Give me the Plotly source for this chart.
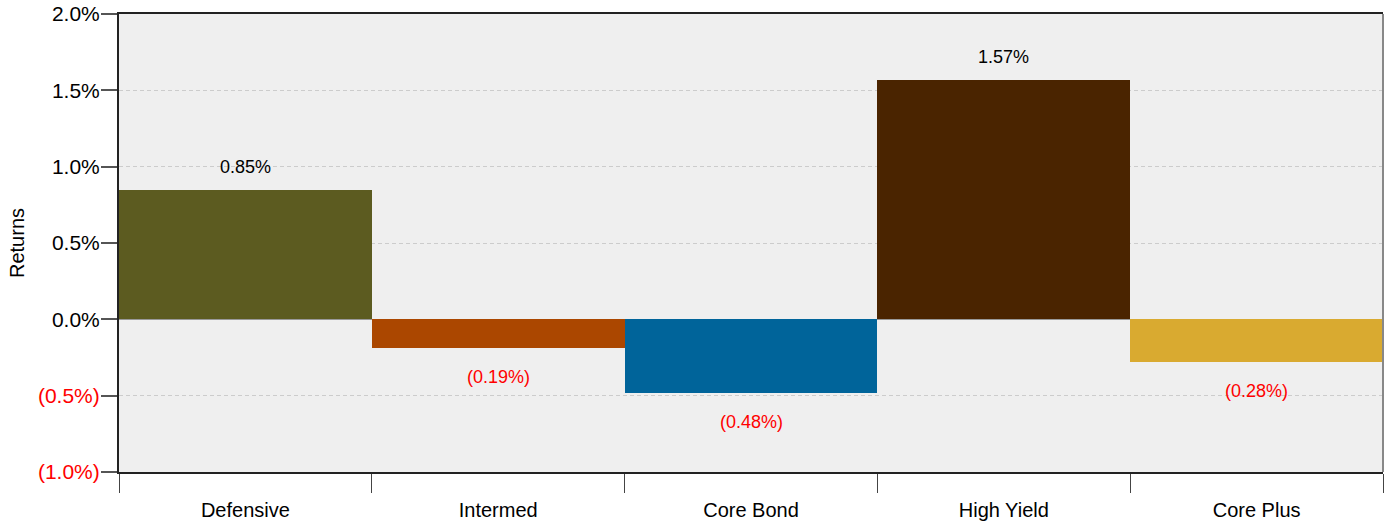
import plotly.graph_objects as go

# Strategy returns (%)
categories = ["Defensive", "Intermed", "Core Bond", "High Yield", "Core Plus"]
returns = [0.85, -0.19, -0.48, 1.57, -0.28]
bar_colors = ["#5c5b20", "#ab4700", "#00649a", "#4a2400", "#d9aa30"]

y_tick_vals = [-1.0, -0.5, 0.0, 0.5, 1.0, 1.5, 2.0]


def fmt_pct(v, digits):
    s = f"{abs(v):.{digits}f}%"
    return f"({s})" if v < 0 else s


y_tick_text = [
    f'<span style="color:#ff0000">{fmt_pct(v, 1)}</span>' if v < 0 else fmt_pct(v, 1)
    for v in y_tick_vals
]

fig = go.Figure(
    go.Bar(
        x=categories,
        y=returns,
        marker=dict(color=bar_colors, line=dict(width=0)),
        width=1.0,
        hoverinfo="skip",
    )
)

# Value labels above positive bars, below negative bars
for cat, v in zip(categories, returns):
    fig.add_annotation(
        x=cat,
        y=v,
        text=fmt_pct(v, 2),
        showarrow=False,
        yanchor="middle",
        yshift=23 if v >= 0 else -29,
        font=dict(size=18, color="#000000" if v >= 0 else "#ff0000"),
    )

# Right-hand frame edge
fig.add_shape(
    type="line", xref="paper", yref="paper",
    x0=1, x1=1, y0=0, y1=1,
    line=dict(color="#888888", width=2),
)

fig.update_layout(
    width=1388,
    height=522,
    margin=dict(l=119, r=5, t=14, b=50),
    paper_bgcolor="white",
    plot_bgcolor="#efefef",
    bargap=0,
    showlegend=False,
    font=dict(family="Liberation Sans, Arial, sans-serif", color="#000000"),
    xaxis=dict(
        type="category",
        range=[-0.5, 4.5],
        automargin=False,
        tickson="boundaries",
        ticks="outside",
        ticklen=19,
        tickwidth=1,
        tickcolor="#444444",
        showgrid=False,
        showline=True,
        linecolor="#222222",
        linewidth=2,
        mirror=True,
        tickfont=dict(size=20),
        ticklabelstandoff=19,
    ),
    yaxis=dict(
        range=[-1.0, 2.0],
        automargin=False,
        tickvals=y_tick_vals,
        ticktext=y_tick_text,
        ticks="outside",
        ticklen=16,
        tickwidth=2,
        tickcolor="#555555",
        showgrid=True,
        gridcolor="#cccccc",
        griddash="4px,3px",
        gridwidth=1,
        zeroline=True,
        zerolinecolor="#999999",
        zerolinewidth=1,
        showline=True,
        linecolor="#222222",
        linewidth=2,
        tickfont=dict(size=21),
        ticklabelstandoff=-3,
        title=dict(text="Returns", font=dict(size=20), standoff=8),
    ),
)

fig.write_html("out.html")
